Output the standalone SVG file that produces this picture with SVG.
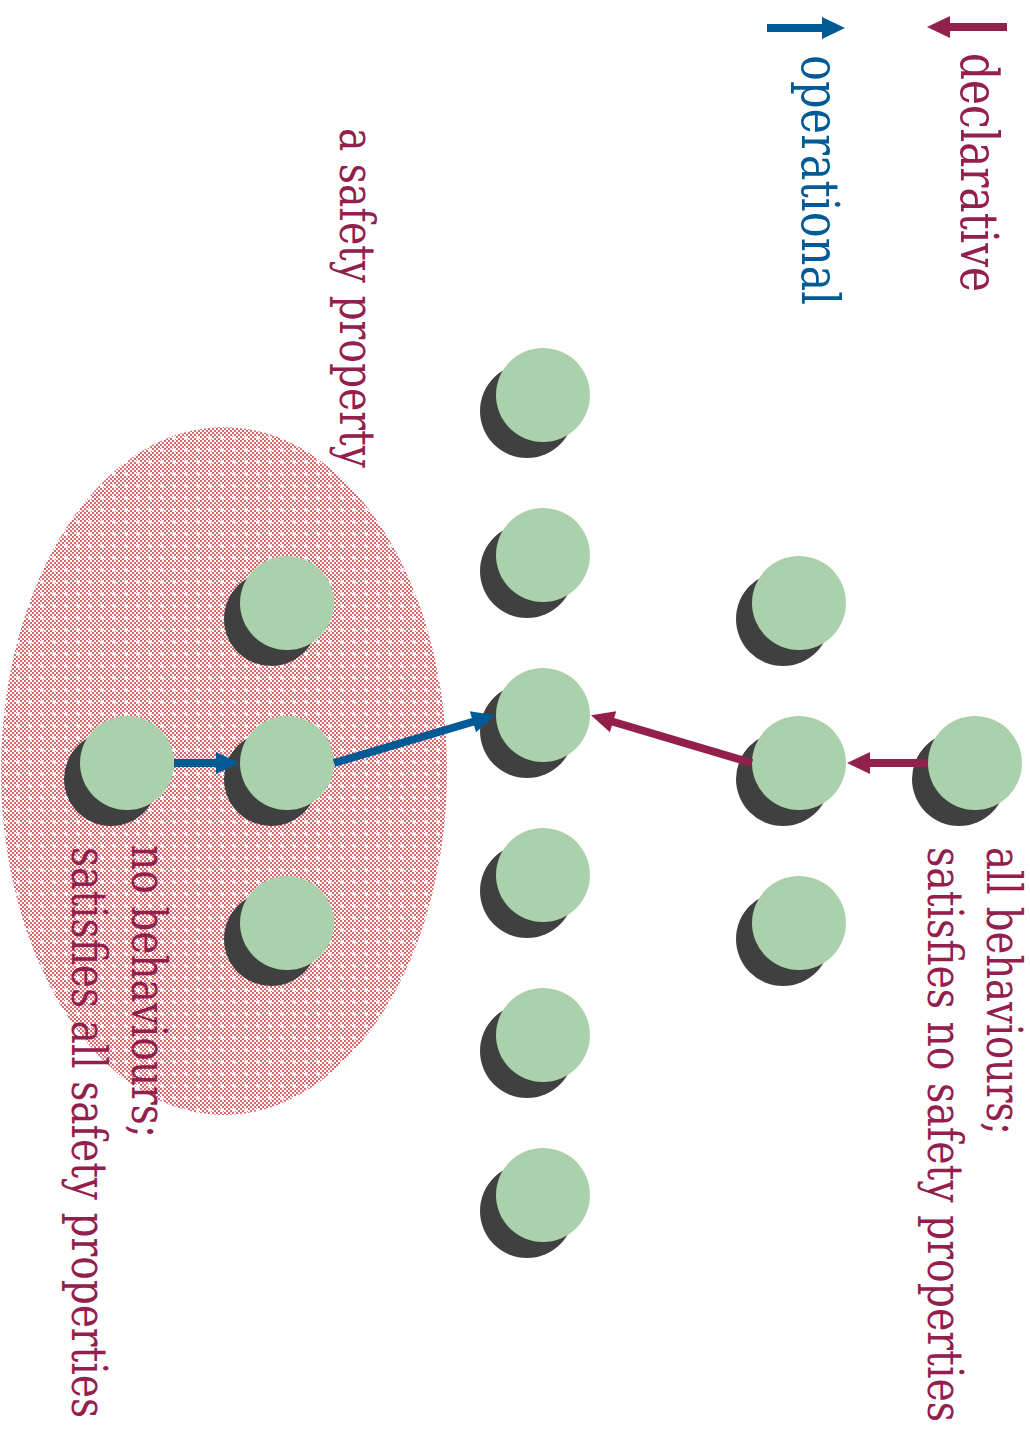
<svg xmlns="http://www.w3.org/2000/svg" xmlns:xlink="http://www.w3.org/1999/xlink" width="1030" height="1429" viewBox="0 0 1030 1429">
  <style>
    .lbl { font-family: "DejaVu Serif", "Liberation Serif", serif; font-stretch: condensed; font-size: 48px; }
    .big { font-size: 52px; }
    .red { fill: #93204c; }
    .blue { fill: #005a96; }
    .edge { stroke-width: 8; fill: none; stroke-linecap: butt; }
    .edge.op { stroke: #005a96; }
    .edge.dc { stroke: #93204c; }
  </style>
  <defs>
    <!-- fine 2px checker used inside the safety-property region -->
    <pattern id="chk" width="4" height="4" patternUnits="userSpaceOnUse">
      <rect width="4" height="4" fill="#ffffff"/>
      <rect x="0" y="0" width="2" height="2" fill="#d9676b"/>
      <rect x="2" y="2" width="2" height="2" fill="#d9676b"/>
    </pattern>
    <pattern id="region-fill" width="12" height="12" patternUnits="userSpaceOnUse">
      <rect width="12" height="12" fill="url(#chk)"/>
      <path d="M5,4 h2 v2 h-2 z M4,5 h4 v2 h-4 z M5,6 h2 v2 h-2 z" fill="#ffffff"/>
    </pattern>
    <!-- a behaviour: dark drop shadow under a green disc -->
    <g id="node">
      <circle cx="-16" cy="16" r="47" fill="#404040"/>
      <circle cx="0" cy="0" r="47" fill="#aad1ab"/>
    </g>
    <marker id="ah-op" markerUnits="userSpaceOnUse" markerWidth="24" markerHeight="24" refX="1" refY="11" orient="auto" overflow="visible">
      <path d="M0,0 L23,11 L0,22 z" fill="#005a96"/>
    </marker>
    <marker id="ah-dc" markerUnits="userSpaceOnUse" markerWidth="24" markerHeight="24" refX="1" refY="11" orient="auto" overflow="visible">
      <path d="M0,0 L23,11 L0,22 z" fill="#93204c"/>
    </marker>
  </defs>

  <rect width="1030" height="1429" fill="#ffffff"/>

  <!-- the set of behaviours that make up a safety property -->
  <g id="safety-region">
    <ellipse cx="224" cy="771" rx="223" ry="344" fill="url(#region-fill)"/>
  </g>

  <!-- legend -->
  <g id="legend">
    <line class="edge op" x1="767" y1="28" x2="823" y2="28" marker-end="url(#ah-op)"/>
    <line class="edge dc" x1="1007" y1="27" x2="949" y2="27" marker-end="url(#ah-dc)"/>
    <g transform="translate(802,55) rotate(90)"><text class="lbl big blue" textLength="250" lengthAdjust="spacingAndGlyphs">operational</text></g>
    <g transform="translate(961,53) rotate(90)"><text class="lbl big red" textLength="239" lengthAdjust="spacingAndGlyphs">declarative</text></g>
  </g>

  <!-- behaviours -->
  <g id="n-a"><use xlink:href="#node" transform="translate(127,763)"/></g>
  <g id="n-b1"><use xlink:href="#node" transform="translate(287,603)"/></g>
  <g id="n-b2"><use xlink:href="#node" transform="translate(287,763)"/></g>
  <g id="n-b3"><use xlink:href="#node" transform="translate(287,923)"/></g>
  <g id="n-c1"><use xlink:href="#node" transform="translate(543,395)"/></g>
  <g id="n-c2"><use xlink:href="#node" transform="translate(543,555)"/></g>
  <g id="n-c3"><use xlink:href="#node" transform="translate(543,715)"/></g>
  <g id="n-c4"><use xlink:href="#node" transform="translate(543,875)"/></g>
  <g id="n-c5"><use xlink:href="#node" transform="translate(543,1035)"/></g>
  <g id="n-c6"><use xlink:href="#node" transform="translate(543,1195)"/></g>
  <g id="n-d1"><use xlink:href="#node" transform="translate(799,603)"/></g>
  <g id="n-d2"><use xlink:href="#node" transform="translate(799,763)"/></g>
  <g id="n-d3"><use xlink:href="#node" transform="translate(799,923)"/></g>
  <g id="n-e"><use xlink:href="#node" transform="translate(975,763)"/></g>

  <!-- connectors -->
  <g id="edges">
    <line class="edge op" x1="174" y1="763" x2="217" y2="763" marker-end="url(#ah-op)"/>
    <line class="edge op" x1="334" y1="763" x2="473.9" y2="721.5" marker-end="url(#ah-op)"/>
    <line class="edge dc" x1="752" y1="763" x2="612.1" y2="721.5" marker-end="url(#ah-dc)"/>
    <line class="edge dc" x1="928" y1="763" x2="869" y2="763" marker-end="url(#ah-dc)"/>
  </g>

  <!-- labels -->
  <g id="label-safety" transform="translate(340,128) rotate(90)">
    <text class="lbl red" textLength="340" lengthAdjust="spacingAndGlyphs">a safety property</text>
  </g>
  <g id="label-top" class="lbl red">
    <g transform="translate(987,847) rotate(90)"><text class="lbl red" textLength="288" lengthAdjust="spacingAndGlyphs">all behaviours;</text></g>
    <g transform="translate(928,847) rotate(90)"><text class="lbl red" textLength="575" lengthAdjust="spacingAndGlyphs">satisfies no safety properties</text></g>
  </g>
  <g id="label-bottom">
    <g transform="translate(132,845) rotate(90)"><text class="lbl red" textLength="293" lengthAdjust="spacingAndGlyphs">no behaviours;</text></g>
    <g transform="translate(72,847) rotate(90)"><text class="lbl red" textLength="571" lengthAdjust="spacingAndGlyphs">satisfies all safety properties</text></g>
  </g>
</svg>
